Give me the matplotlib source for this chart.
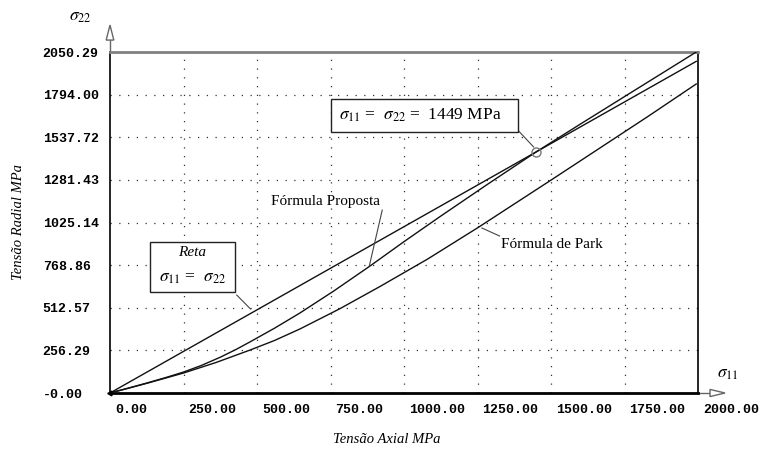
"""Tensão radial x tensão axial: reta, fórmula proposta e fórmula de Park."""

import matplotlib

matplotlib.use("Agg")
import matplotlib.pyplot as plt
import matplotlib.transforms as mtransforms
from matplotlib.patches import Polygon, Rectangle

# dados (MPa)
x_max = 1994.0
y_max = 2050.29

reta_x = [0, x_max]
reta_y = [0, x_max]

proposta_x = [0, 60, 125, 190, 250, 310, 375, 430, 476, 560, 646, 760, 884,
              1000, 1122, 1280, 1449, 1600, 1800, 1994]
proposta_y = [0, 28, 60, 93, 126, 165, 215, 263, 307, 390, 481, 612, 763,
              910, 1060, 1250, 1449, 1617, 1837, 2050.29]

park_x = [0, 125, 250, 360, 476, 560, 646, 780, 918, 1080, 1252, 1500, 1662, 1830, 1994]
park_y = [0, 58, 120, 183, 258, 316, 385, 505, 640, 805, 995, 1280, 1468, 1663, 1858]

cruzamento = 1449

x_ticks = [0, 250, 500, 750, 1000, 1250, 1500, 1750, 2000]
x_labels = ["0.00", "250.00", "500.00", "750.00", "1000.00", "1250.00",
            "1500.00", "1750.00", "2000.00"]
y_ticks = [0, 256.29, 512.57, 768.86, 1025.14, 1281.43, 1537.72, 1794.00, 2050.29]
y_labels = ["-0.00", "256.29", "512.57", "768.86", "1025.14", "1281.43",
            "1537.72", "1794.00", "2050.29"]

plt.rcParams["mathtext.fontset"] = "stix"
SERIF = "Liberation Serif"
MONO = "Liberation Mono"

fig = plt.figure(figsize=(7.61, 4.49), dpi=100)
ax = fig.add_axes([110 / 761, 56 / 449, 588 / 761, 341 / 449])
ax.set_xlim(0, x_max)
ax.set_ylim(0, y_max)

# grade pontilhada
grid_style = dict(color="#333333", linewidth=0.9, linestyle=(0, (1, 6)), zorder=1)
for xv in x_ticks[1:-1]:
    ax.axvline(xv, **grid_style)
for yv in y_ticks[1:-1]:
    ax.axhline(yv, **grid_style)

line_style = dict(color="#111111", linewidth=1.0, zorder=3)
ax.plot(reta_x, reta_y, **line_style)
ax.plot(proposta_x, proposta_y, **line_style)
ax.plot(park_x, park_y, **line_style)
ax.plot([0], [0], marker=(3, 0, -30), markersize=4, color="black", clip_on=False, zorder=4)

# eixos
for side in ["left", "right"]:
    ax.spines[side].set_color("black")
    ax.spines[side].set_linewidth(1.2)
ax.spines["bottom"].set_color("black")
ax.spines["bottom"].set_linewidth(2.0)
ax.spines["top"].set_color("#808080")
ax.spines["top"].set_linewidth(2.0)

ax.set_xticks(x_ticks)
ax.set_xticklabels(x_labels, fontfamily=MONO, fontweight="bold", fontsize=9.5)
ax.set_yticks(y_ticks)
ax.set_yticklabels(y_labels, fontfamily=MONO, fontweight="bold", fontsize=9.5)
ax.tick_params(length=0)
ax.tick_params(axis="x", pad=8)
ax.tick_params(axis="y", pad=48.5)
offset = mtransforms.ScaledTranslation(5 / 100, 0, fig.dpi_scale_trans)
for label in ax.get_xticklabels():
    label.set_horizontalalignment("left")
    label.set_transform(label.get_transform() + offset)
for label in ax.get_yticklabels():
    label.set_horizontalalignment("left")

# setas dos eixos
arrow_kw = dict(transform=ax.transAxes, clip_on=False, facecolor="white",
                edgecolor="#666666", linewidth=1.0, zorder=5)
ax.plot([0, 0], [1.0, 1.035], transform=ax.transAxes, color="#666666", lw=1.0, clip_on=False)
ax.add_patch(Polygon([[-0.0065, 1.035], [0.0065, 1.035], [0, 1.079]], closed=True, **arrow_kw))
ax.plot([1.0, 1.0204], [0, 0], transform=ax.transAxes, color="#666666", lw=1.0, clip_on=False)
ax.add_patch(Polygon([[1.0204, -0.0105], [1.0204, 0.0105], [1.0459, 0]], closed=True, **arrow_kw))

ax.text(-0.07, 1.105, r"$\sigma_{22}$", transform=ax.transAxes, fontsize=12.5,
        ha="left", va="center")
ax.text(1.032, 0.058, r"$\sigma_{11}$", transform=ax.transAxes, fontsize=12.5,
        ha="left", va="center")

ax.text(-0.155, 0.5, "Tensão Radial MPa", transform=ax.transAxes, rotation=90,
        fontfamily=SERIF, fontstyle="italic", fontsize=10.5, ha="center", va="center")
ax.text(0.47, -0.137, "Tensão Axial MPa", transform=ax.transAxes,
        fontfamily=SERIF, fontstyle="italic", fontsize=10.5, ha="center", va="center")

# anotações
ann_kw = dict(color="#444444", linewidth=0.8, clip_on=False, zorder=4)

ax.add_patch(Rectangle((753, 1569), 634, 198, facecolor="white", edgecolor="#222222",
                       linewidth=1.0, zorder=6))
ax.text(780, 1669, r"$\sigma_{11}$ =  $\sigma_{22}$ =  1449 MPa", fontfamily=SERIF,
        fontsize=12.5, ha="left", va="center", zorder=7)
ax.plot([1390, 1441], [1575, 1479], **ann_kw)
ax.plot([cruzamento], [cruzamento], marker="o", markersize=6.5, markerfacecolor="none",
        markeredgecolor="#777777", markeredgewidth=1.0, zorder=6)

ax.add_patch(Rectangle((136, 607), 288, 301, facecolor="white", edgecolor="#222222",
                       linewidth=1.0, zorder=6))
ax.text(280, 842, "Reta", fontfamily=SERIF, fontstyle="italic", fontsize=11,
        ha="center", va="center", zorder=7)
ax.text(280, 691, r"$\sigma_{11}$ =  $\sigma_{22}$", fontfamily=SERIF, fontsize=12.5,
        ha="center", va="center", zorder=7)
ax.plot([431, 478], [589, 505], **ann_kw)

ax.text(549, 1154, "Fórmula Proposta", fontfamily=SERIF, fontsize=11,
        ha="left", va="center", zorder=7)
ax.plot([926, 882], [1100, 764], **ann_kw)

ax.text(1329, 890, "Fórmula de Park", fontfamily=SERIF, fontsize=11,
        ha="left", va="center", zorder=7)
ax.plot([1265, 1325], [992, 944], **ann_kw)

fig.savefig("out.png", dpi=100)
